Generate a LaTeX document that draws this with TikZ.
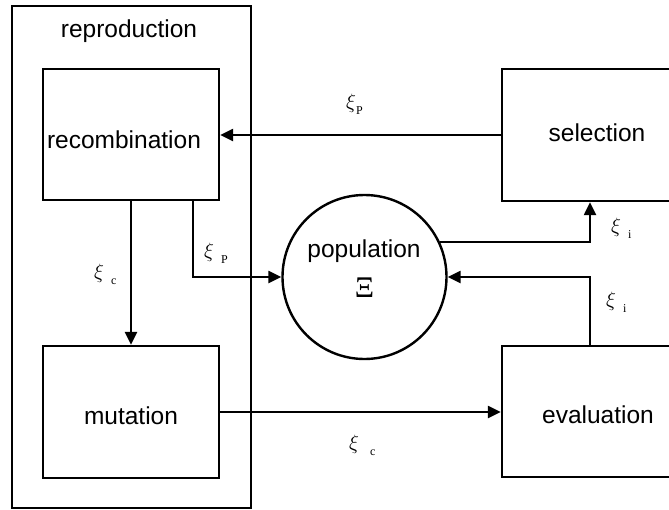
\documentclass[tikz,border=0pt]{standalone}
\usepackage{fontspec}
\setmainfont{Liberation Sans}
\newfontfamily\serifgreek{Liberation Serif}
\usetikzlibrary{arrows.meta}
% xi with a small lowered index; #2 is the gap before the index
\newcommand\xilabel[2]{{\fontsize{22}{22}\selectfont$\xi$}\hspace{#2}\raisebox{-6pt}{\fontsize{12}{12}\selectfont\serifgreek #1}}

\begin{document}
\begin{tikzpicture}[x=1pt,y=-1pt,
  box/.style={draw, line width=2.4pt, inner sep=0pt},
  conn/.style={line width=2.4pt, -{Triangle[length=13pt,width=12pt]}},
  lbl/.style={font=\fontsize{24.5}{28}\selectfont, inner sep=0pt, anchor=base},
  xi/.style={inner sep=0pt, anchor=west}]
\useasboundingbox (0,0) rectangle (669,509);
\clip (0,0) rectangle (669,509);

% blocks
\node[box, minimum width=239pt, minimum height=502pt] (reproduction) at (131.5,257) {};
\node[box, minimum width=176pt, minimum height=131pt] (recombination) at (131,134.5) {};
\node[box, minimum width=176pt, minimum height=132pt] (mutation) at (131,412) {};
\node[box, minimum width=176pt, minimum height=132pt] (selection) at (590,135) {};
\node[box, minimum width=176pt, minimum height=131pt] (evaluation) at (590,411.5) {};
\node[box, circle, minimum size=164pt] (population) at (364.5,277) {};

% block titles
\node[lbl] (t-repro) at (129,37) {reproduction};
\node[lbl] (t-recomb) at (124,148) {recombination};
\node[lbl] (t-mut) at (131,424) {mutation};
\node[lbl] (t-pop) at (364,257) {population};
\node[inner sep=0pt, anchor=base, font=\fontsize{30}{30}\selectfont\serifgreek] (t-Xi) at (364.5,297) {Ξ};
\node[lbl] (t-sel) at (597,141) {selection};
\node[lbl] (t-eval) at (598,423) {evaluation};

% flows
\draw[conn] (selection.west) -- (selection.west -| recombination.east);
\draw[conn] (recombination.south) -- (mutation.north);
\draw[conn] ([xshift=62pt]recombination.south) |- (population.west);
\draw[conn] (mutation.east) -- (mutation.east -| evaluation.west);
\draw[conn] (population.25) -| (selection.south);
\draw[conn] (evaluation.north) |- (population.east);

% flow labels
\node[xi] (xi-sel) at (346,104) {\xilabel{P}{0pt}};
\node[xi] (xi-rec) at (204,253) {\xilabel{P}{7pt}};
\node[xi] (xi-pop) at (611,228) {\xilabel{i}{7pt}};
\node[xi] (xi-eval) at (606,302.5) {\xilabel{i}{7pt}};
\node[xi] (xi-mut) at (94,274) {\xilabel{c}{7pt}};
\node[xi] (xi-ev) at (349,445) {\xilabel{c}{11pt}};
\end{tikzpicture}
\end{document}
